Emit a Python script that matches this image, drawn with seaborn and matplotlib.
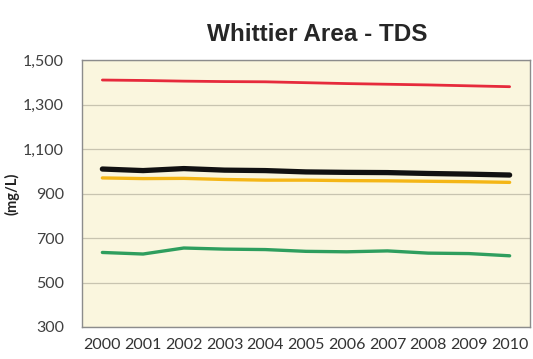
import numpy as np
import pandas as pd
import seaborn as sns
import matplotlib.pyplot as plt

years = [2000, 2001, 2002, 2003, 2004, 2005, 2006, 2007, 2008, 2009, 2010]
red = [1410, 1408, 1405, 1403, 1402, 1398, 1394, 1391, 1388, 1384, 1380]
black = [1010, 1003, 1012, 1005, 1003, 997, 995, 994, 990, 987, 983]
yellow = [970, 967, 968, 963, 960, 960, 958, 957, 955, 953, 950]
green = [635, 628, 655, 650, 648, 640, 638, 642, 632, 630, 620]

series = {"red": red, "black": black, "yellow": yellow, "green": green}
colors = {"red": "#e62a3c", "black": "#111111", "yellow": "#f4b616", "green": "#2e9e5e"}
widths = {"red": 2.0, "black": 3.8, "yellow": 2.4, "green": 2.4}

rows = []
for name, vals in series.items():
    for i, v in enumerate(vals):
        rows.append({"pos": i, "value": v, "series": name})
df = pd.DataFrame(rows)

sns.set_style("white")
plt.rcParams['font.family'] = ['Lato', 'DejaVu Sans']

fig = plt.figure(figsize=(5.33, 3.59), dpi=100)
ax = fig.add_axes([82 / 533, 1 - 327 / 359, 448 / 533, 267 / 359])
ax.set_facecolor("#faf6de")

for name in series:
    sub = df[df["series"] == name]
    sns.lineplot(data=sub, x="pos", y="value", color=colors[name],
                 linewidth=widths[name], ax=ax, legend=False)

ax.set_xlim(-0.5, 10.5)
ax.set_ylim(300, 1500)
ax.set_yticks([300, 500, 700, 900, 1100, 1300, 1500])
ax.set_yticklabels(["300", "500", "700", "900", "1,100", "1,300", "1,500"])
ax.set_xticks(range(len(years)))
ax.set_xticklabels([str(y) for y in years])
ax.set_xticks(np.arange(-0.5, 11, 1), minor=True)
ax.tick_params(axis="x", which="major", labelsize=11.5, colors="#333333", length=0, pad=8)
ax.tick_params(axis="x", which="minor", length=4, color="#a0a0a0", direction="out")
ax.tick_params(axis="y", labelsize=11.5, labelcolor="#404040", length=5, color="#a0a0a0", pad=8)
ax.grid(axis="y", color="#c8c4b0", linewidth=0.9)
for s in ax.spines.values():
    s.set_color("#8c8c8c")
    s.set_linewidth(1.0)
ax.set_xlabel("")
ax.set_ylabel("(mg/L)", fontsize=10.5, fontweight="bold", color="#222222")
ax.yaxis.set_label_coords(-0.14, 0.5)

fig.text(0.595, 0.905, "Whittier Area - TDS", ha="center", va="center",
         fontsize=17.5, fontweight="bold", family="Liberation Sans")

plt.savefig("out.png", dpi=100)
